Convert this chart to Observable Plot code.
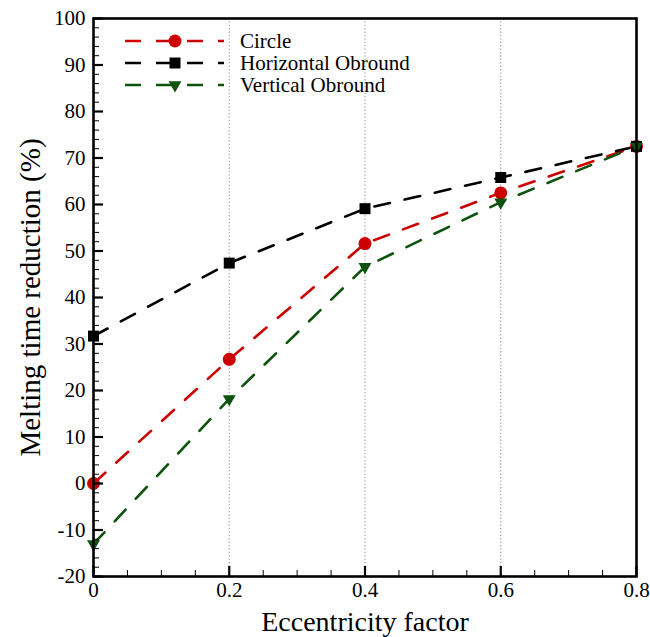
<!DOCTYPE html>
<html><head><meta charset="utf-8">
<script src="https://cdn.jsdelivr.net/npm/d3@7"></script>
<script src="https://cdn.jsdelivr.net/npm/@observablehq/plot@0.6"></script>
<style>
body{margin:0;background:#fff}
#wrap{position:relative;width:650px;height:637px}
#wrap svg{position:absolute;left:0;top:0}
</style>
</head><body><div id="wrap"></div>
<script>
const ecc = [0, 0.2, 0.4, 0.6, 0.8];
const circleVals = [0, 26.7, 51.6, 62.5, 72.5];
const horizontalVals = [31.7, 47.4, 59.1, 65.8, 72.5];
const verticalVals = [-13.0, 18.2, 46.6, 60.5, 72.5];
const seriesNames = ["Circle", "Horizontal Obround", "Vertical Obround"];
const seriesColors = ["#cc0000", "#000000", "#0d520d"];
const xTicks = [0, 0.2, 0.4, 0.6, 0.8];
const xGrid = [0.2, 0.4, 0.6];
const yTicks = [-20, -10, 0, 10, 20, 30, 40, 50, 60, 70, 80, 90, 100];
const xMinor = [0.05, 0.1, 0.15, 0.25, 0.3, 0.35, 0.45, 0.5, 0.55, 0.65, 0.7, 0.75];
const yMinor = d3.range(-20, 101, 2).filter(v => v % 10 !== 0);

const allVals = [circleVals, horizontalVals, verticalVals];
const data = allVals.map((vals, i) => ecc.map((x, j) => ({x, y: vals[j], series: seriesNames[i]})));

const W = 650, H = 637, ML = 93, MR = 14, MT = 18, MB = 61;
const PW = W - ML - MR, PH = H - MT - MB;
const font = "Liberation Serif, Times New Roman, serif";
const dash = "16,15";
const symbols = ["circle", "square", "triangle"];
const radii = [6.5, 6.2, 4.8];
const rotations = [0, 0, 180];

const marks = [
  Plot.ruleX(xGrid, {stroke: "#8a8a8a", strokeDasharray: "1.2,2.2", strokeWidth: 1})
];
data.forEach((d, i) => {
  marks.push(Plot.line(d, {x: "x", y: "y", stroke: seriesColors[i], strokeWidth: 2.6, strokeDasharray: dash}));
});
data.forEach((d, i) => {
  marks.push(Plot.dot(d, {x: "x", y: "y", fill: seriesColors[i], stroke: "none", symbol: symbols[i], r: radii[i], rotate: rotations[i]}));
});
marks.push(
  Plot.ruleY(yTicks, {insetRight: PW - 10, strokeWidth: 2.2, stroke: "#000"}),
  Plot.ruleY(yMinor, {insetRight: PW - 6, strokeWidth: 1, stroke: "#000"}),
  Plot.ruleX(xTicks, {insetTop: PH - 10, strokeWidth: 2.2, stroke: "#000"}),
  Plot.ruleX(xMinor, {insetTop: PH - 6, strokeWidth: 1, stroke: "#000"}),
  Plot.frame({stroke: "#000", strokeWidth: 2.6}),
  Plot.axisY({ticks: yTicks, tickSize: 0, tickPadding: 8, fontSize: 21, tickFormat: d => String(d), label: null}),
  Plot.axisX({ticks: xTicks, tickSize: 0, tickPadding: 6, fontSize: 21, tickFormat: d => String(d), label: null}),
  Plot.text(["Eccentricity factor"], {text: d => d, frameAnchor: "bottom", dy: 46, fontSize: 28, textAnchor: "middle", lineAnchor: "middle"}),
  Plot.text(["Melting time reduction (%)"], {text: d => d, frameAnchor: "left", dx: -63, rotate: -90, fontSize: 29, textAnchor: "middle", lineAnchor: "middle"})
);

const chart = Plot.plot({
  width: W, height: H,
  marginLeft: ML, marginRight: MR, marginTop: MT, marginBottom: MB,
  x: {domain: [0, 0.8]},
  y: {domain: [-20, 100]},
  style: {fontFamily: font, fontSize: "21px", color: "#000", background: "#fff", overflow: "visible"},
  marks
});
const wrap = document.getElementById("wrap");
wrap.appendChild(chart);

// Legend overlay
const leg = d3.select(wrap).append("svg").attr("width", W).attr("height", H).style("pointer-events", "none");
const d3sym = [d3.symbolCircle, d3.symbolSquare, d3.symbolTriangle];
seriesNames.forEach((name, i) => {
  const y = 41 + 22 * i;
  const g = leg.append("g");
  g.append("line").attr("x1", 125).attr("x2", 224).attr("y1", y).attr("y2", y)
    .attr("stroke", seriesColors[i]).attr("stroke-width", 2.6).attr("stroke-dasharray", dash);
  g.append("path").attr("d", d3.symbol(d3sym[i], Math.PI * radii[i] * radii[i])())
    .attr("transform", `translate(175,${y}) rotate(${rotations[i]})`).attr("fill", seriesColors[i]);
  g.append("text").attr("x", 240).attr("y", y).attr("dy", "0.35em")
    .attr("font-family", font).attr("font-size", 21).text(name);
});
</script>
</body></html>
